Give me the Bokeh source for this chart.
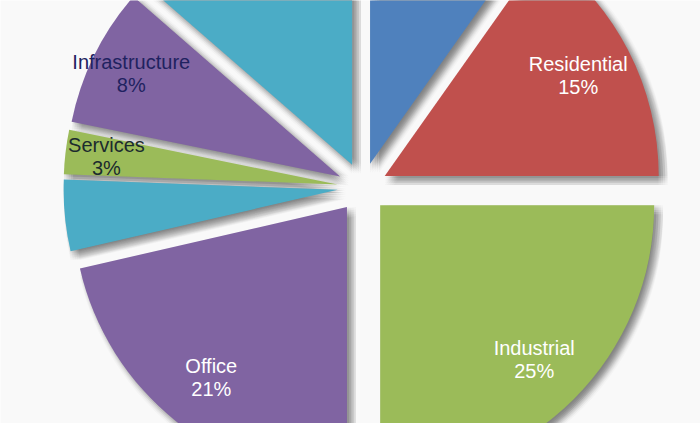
import numpy as np
from bokeh.plotting import figure
from bokeh.models import ColumnDataSource, Range1d
from bokeh.embed import file_html
from bokeh.resources import INLINE
from bokeh.core.properties import value

# ---- data (clockwise from 12 o'clock) ----
labels = ["", "Residential", "Industrial", "Office", "", "Services", "Infrastructure", ""]
shares = [9.8, 15.2, 25.0, 21.4, 4.2, 2.6, 8.2, 13.6]
pct_labels = ["10%", "15%", "25%", "21%", "4%", "3%", "8%", "14%"]
colors = ["#4F81BD", "#C0504D", "#9BBB59", "#8064A2", "#4BACC6", "#9BBB59", "#8064A2", "#4BACC6"]
text_colors = ["#ffffff", "#ffffff", "#ffffff", "#ffffff", "#ffffff", "#1c2b2e", "#1f2260", "#ffffff"]

# ---- layout ----
W, H = 700, 423
CX, CY = 362, 236
R = 274
EXPLODE = 25

total = float(sum(shares))
cum = np.concatenate([[0.0], np.cumsum(shares)]) / total
start = np.pi / 2 - cum[:-1] * 2 * np.pi
end = np.pi / 2 - cum[1:] * 2 * np.pi
mid = (start + end) / 2
xs = CX + EXPLODE * np.cos(mid)
ys = CY + EXPLODE * np.sin(mid)

p = figure(width=W, height=H, x_range=Range1d(0, W), y_range=Range1d(0, H),
           x_axis_type=None, y_axis_type=None, output_backend="svg",
           toolbar_location=None, min_border=0)
p.grid.visible = False
p.outline_line_color = None
p.background_fill_color = "#f9f9f9"
p.border_fill_color = "#f9f9f9"

# soft drop shadow (layered)
for ox in np.linspace(0, 9, 5):
    for oy in np.linspace(0, 9, 5):
        p.wedge(x=xs + ox, y=ys - oy, radius=R, start_angle=start, end_angle=end,
                direction="clock", fill_color="#000000", fill_alpha=0.022, line_color=None)

src = ColumnDataSource(dict(x=xs, y=ys, start=start, end=end, color=colors))
p.wedge(x="x", y="y", radius=R, start_angle="start", end_angle="end", direction="clock",
        fill_color="color", line_color=None, source=src)

# labels
lx, ly, name, pct, tc = [], [], [], [], []
for i, lab in enumerate(labels):
    if not lab:
        continue
    rl = 0.795 * R if shares[i] >= 10 else 0.85 * R
    lx.append(xs[i] + rl * np.cos(mid[i]))
    ly.append(ys[i] + rl * np.sin(mid[i]))
    name.append(lab)
    pct.append(pct_labels[i])
    tc.append(text_colors[i])
lsrc = ColumnDataSource(dict(x=lx, y=ly, name=name, pct=pct, tc=tc))
p.text(x="x", y="y", text="name", source=lsrc, text_color="tc", y_offset=-11.5,
       text_align="center", text_baseline="middle", text_font=value("Liberation Sans"),
       text_font_size="20px")
p.text(x="x", y="y", text="pct", source=lsrc, text_color="tc", y_offset=11.5,
       text_align="center", text_baseline="middle", text_font=value("Liberation Sans"),
       text_font_size="20px")

open("out.html", "w").write(file_html(p, INLINE))
